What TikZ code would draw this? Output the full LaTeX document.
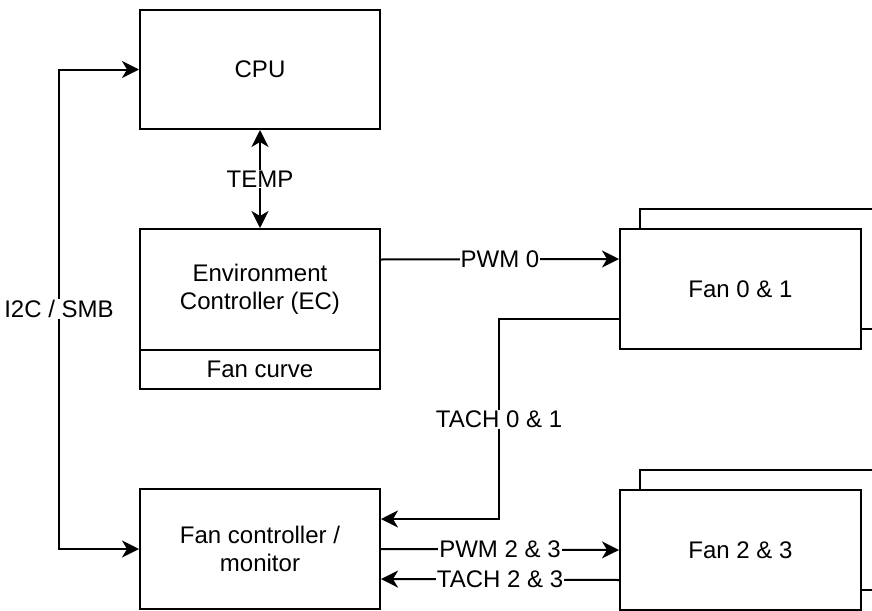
\documentclass[tikz,border=0pt]{standalone}
\usepackage{fontspec}
\setmainfont{Liberation Sans}
\usetikzlibrary{arrows.meta}

\begin{document}
\begin{tikzpicture}[x=1pt, y=-1pt, line width=2pt,
  box/.style={draw, fill=white, inner sep=0pt, minimum width=240pt, minimum height=120pt, align=center, font=\fontsize{24}{28}\selectfont},
  sig/.style={-{Stealth[length=17pt,width=17pt,inset=5pt]}},
  sigboth/.style={{Stealth[length=17pt,width=17pt,inset=5pt]}-{Stealth[length=17pt,width=17pt,inset=5pt]}},
  lbl/.style={fill=white, inner sep=1pt, font=\fontsize{24}{28}\selectfont}]
\useasboundingbox (0,0) rectangle (872,610);

% left column
\node[box, minimum height=119pt] (cpu) at (260,69.5) {CPU};
\node[box, minimum height=121pt] (ec) at (260,289.5) {Environment\\Controller (EC)};
\node[box, minimum height=39pt] (curve) at (260,369.5) {Fan curve};
\node[box] (fc) at (260,549) {Fan controller /\\monitor};

% fans, each with a second box behind it
\node[box, minimum width=241pt] (fanAback) at (760.5,269) {};
\node[box, minimum width=241pt] (fanA) at (740.5,289) {Fan 0 \& 1};
\node[box, minimum width=241pt] (fanBback) at (760.5,530) {};
\node[box, minimum width=241pt] (fanB) at (740.5,550) {Fan 2 \& 3};

% signals
\draw[sigboth] (cpu) -- node[lbl] {TEMP} (ec);
\draw[sigboth] (fc.west) -- ++(-80,0) |- node[lbl, pos=0.25] {I2C / SMB} (cpu.west);
\draw[sig] ([yshift=30pt]ec.east) -- node[lbl] {PWM 0} ([yshift=30pt]fanA.west);
\draw[sig] ([yshift=-30pt]fanA.west) -- ++(-120,0) |- node[lbl, pos=0.25] {TACH 0 \& 1} ([yshift=30pt]fc.east);
\draw[sig] (fc.east) -- node[lbl] {PWM 2 \& 3} (fanB.west);
\draw[sig] ([yshift=-30pt]fanB.west) -- node[lbl] {TACH 2 \& 3} ([yshift=-30pt]fc.east);
\end{tikzpicture}
\end{document}
